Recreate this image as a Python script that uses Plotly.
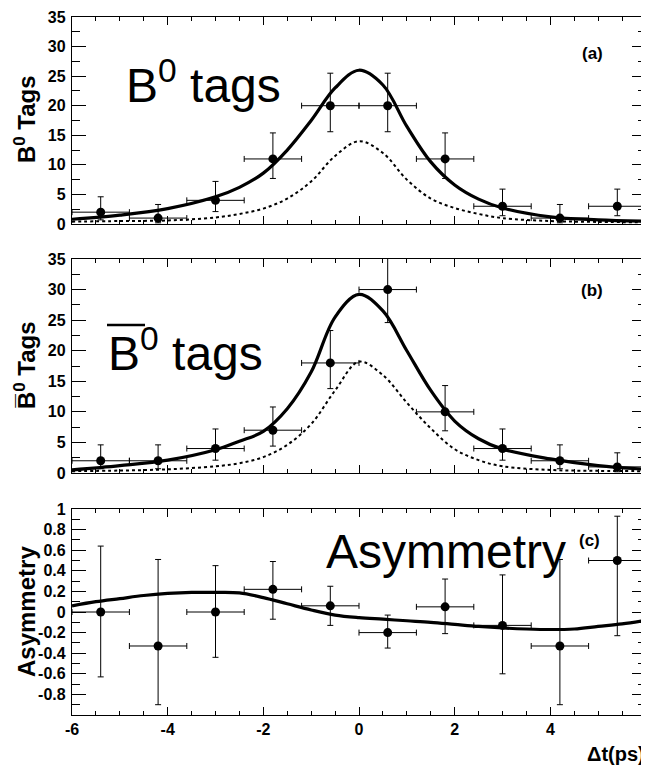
import plotly.graph_objects as go

# ---------------- data ----------------
bin_x = [-5.4, -4.2, -3.0, -1.8, -0.6, 0.6, 1.8, 3.0, 4.2, 5.4]
bin_halfwidth = [0.6] * 10

# (a) B0 tags
a_counts = [2, 1, 4, 11, 20, 20, 11, 3, 1, 3]
a_err_up = [2.6, 2.3, 3.2, 4.4, 5.5, 5.5, 4.4, 2.9, 2.3, 2.9]
a_err_dn = [1.3, 0.8, 1.9, 3.3, 4.4, 4.4, 3.3, 1.6, 0.8, 1.6]

# (b) B0bar tags
b_counts = [2, 2, 4, 7, 18, 30, 10, 4, 2, 1]
b_err_up = [2.6, 2.6, 3.2, 3.8, 5.3, 6.5, 4.3, 3.2, 2.6, 2.3]
b_err_dn = [1.3, 1.3, 1.9, 2.6, 4.2, 5.4, 3.1, 1.9, 1.3, 0.8]

# (c) asymmetry
c_vals = [0.0, -0.33, 0.0, 0.22, 0.06, -0.20, 0.05, -0.13, -0.33, 0.50]
c_err_up = [0.64, 0.84, 0.45, 0.27, 0.19, 0.17, 0.27, 0.49, 0.84, 0.43]
c_err_dn = [0.63, 0.57, 0.44, 0.29, 0.19, 0.15, 0.26, 0.47, 0.57, 0.73]

# fitted curves
curve_x = [-6, -5, -4, -3, -2.5, -2, -1.5, -1, -0.5, 0, 0.5, 1, 1.5, 2, 2.5, 3, 4, 5, 6]
a_total = [0.8, 1.5, 2.6, 4.6, 6.2, 8.6, 12.5, 17.5, 23.0, 26.0, 23.5, 16.5, 10.5, 6.6, 4.2, 2.7, 1.2, 0.7, 0.45]
a_signal = [0.4, 0.5, 0.6, 1.1, 1.7, 2.6, 4.3, 7.2, 11.5, 14.0, 12.0, 7.5, 4.3, 2.7, 1.7, 1.0, 0.5, 0.35, 0.3]
b_total = [0.5, 1.2, 2.1, 3.8, 5.2, 6.8, 10.5, 16.5, 25.5, 29.2, 26.5, 20.0, 13.5, 8.5, 5.6, 3.9, 2.3, 1.2, 0.6]
b_signal = [0.3, 0.4, 0.6, 1.1, 1.6, 2.6, 4.6, 8.0, 13.5, 18.2, 16.0, 11.5, 7.3, 3.9, 2.1, 1.1, 0.5, 0.35, 0.3]

asym_x = [-6, -5.5, -5, -4.5, -4, -3.5, -3, -2.5, -2, -1.5, -1, -0.5, 0, 0.5, 1, 1.5, 2, 2.5, 3, 3.5, 4, 4.5, 5, 5.5, 6]
asym_fit = [0.06, 0.10, 0.13, 0.16, 0.18, 0.19, 0.19, 0.185, 0.14, 0.08, 0.02, -0.03, -0.055, -0.07, -0.085,
            -0.10, -0.12, -0.14, -0.155, -0.165, -0.17, -0.165, -0.14, -0.115, -0.08]

x_ticks = [-6, -4, -2, 0, 2, 4, 6]
x_ticktext = ["-6", "-4", "-2", "0", "2", "4", "6"]
yab_ticks = [0, 5, 10, 15, 20, 25, 30, 35]
yc_ticks = [-0.8, -0.6, -0.4, -0.2, 0, 0.2, 0.4, 0.6, 0.8, 1]
yc_ticktext = ["-0.8", "-0.6", "-0.4", "-0.2", "0", "0.2", "0.4", "0.6", "0.8", "1"]

# ---------------- figure ----------------
# the page places the figure 8 px from the top-left corner (body margin),
# so the figure is 8 px smaller and all page positions are shifted by 8 px
OFF = 8
W, H = 649 - OFF, 769 - OFF
FONT = "Liberation Sans, Arial, sans-serif"


def px(x):
    return (x - OFF) / W


def py(y):
    return 1 - (y - OFF) / H


fig = go.Figure()

panels = [
    ("", "y", a_counts, a_err_up, a_err_dn, a_total, a_signal),
    ("2", "y2", b_counts, b_err_up, b_err_dn, b_total, b_signal),
]
for suffix, yref, counts, eu, ed, tot, sig in panels:
    xa = "x" + suffix
    fig.add_trace(go.Scatter(x=curve_x, y=sig, mode="lines", xaxis=xa, yaxis=yref,
                             line=dict(color="black", width=2, dash="dot", shape="spline"),
                             showlegend=False))
    fig.add_trace(go.Scatter(x=curve_x, y=tot, mode="lines", xaxis=xa, yaxis=yref,
                             line=dict(color="black", width=3.2, shape="spline"),
                             showlegend=False))
    fig.add_trace(go.Scatter(x=bin_x, y=counts, mode="markers", xaxis=xa, yaxis=yref,
                             marker=dict(color="black", size=9),
                             error_y=dict(type="data", symmetric=False, array=eu, arrayminus=ed,
                                          color="black", thickness=1, width=3),
                             error_x=dict(type="data", array=bin_halfwidth,
                                          color="black", thickness=1, width=3),
                             showlegend=False))

fig.add_trace(go.Scatter(x=asym_x, y=asym_fit, mode="lines", xaxis="x3", yaxis="y3",
                         line=dict(color="black", width=3.2, shape="spline"), showlegend=False))
fig.add_trace(go.Scatter(x=bin_x, y=c_vals, mode="markers", xaxis="x3", yaxis="y3",
                         marker=dict(color="black", size=9),
                         error_y=dict(type="data", symmetric=False, array=c_err_up, arrayminus=c_err_dn,
                                      color="black", thickness=1, width=3),
                         error_x=dict(type="data", array=bin_halfwidth,
                                      color="black", thickness=1, width=3),
                         showlegend=False))

xdom = [px(72), px(646)]
ydoms = [[py(224), py(17)], [py(473), py(259)], [py(715), py(509)]]

tickfont = dict(family=FONT, size=16, color="black", weight="bold")


def xaxis(anchor, labels):
    d = dict(domain=xdom, anchor=anchor, range=[-6, 6], tickmode="array", tickvals=x_ticks,
             ticktext=x_ticktext, showticklabels=labels, ticks="inside", ticklen=8, tickwidth=1,
             tickcolor="black", showline=True, linecolor="black", linewidth=1.3, mirror="ticks",
             showgrid=False, zeroline=False, tickfont=tickfont, automargin=False,
             minor=dict(tick0=0, dtick=0.5, ticks="inside", ticklen=4, tickcolor="black", showgrid=False))
    return d


def yaxis(anchor, dom, rng, vals, texts, minor_dtick):
    return dict(domain=dom, anchor=anchor, range=rng, tickmode="array", tickvals=vals, ticktext=texts,
                ticks="inside", ticklen=14, tickwidth=1, tickcolor="black", showline=True,
                linecolor="black", linewidth=1.3, mirror="ticks", showgrid=False, zeroline=False,
                tickfont=tickfont, ticklabelstandoff=2, automargin=False,
                minor=dict(tick0=0, dtick=minor_dtick, ticks="inside", ticklen=8, tickcolor="black",
                           showgrid=False))


fig.update_layout(
    template="none",
    width=W, height=H,
    margin=dict(l=0, r=0, t=0, b=0, autoexpand=False),
    paper_bgcolor="white", plot_bgcolor="white",
    showlegend=False,
    xaxis=xaxis("y", False),
    xaxis2=xaxis("y2", False),
    xaxis3=xaxis("y3", True),
    yaxis=yaxis("x", ydoms[0], [0, 35], yab_ticks, [str(v) for v in yab_ticks], 2.5),
    yaxis2=yaxis("x2", ydoms[1], [0, 35], yab_ticks, [str(v) for v in yab_ticks], 2.5),
    yaxis3=yaxis("x3", ydoms[2], [-1, 1], yc_ticks, yc_ticktext, 0.1),
)

big = dict(family=FONT, size=48, color="black")
title_font = dict(family=FONT, size=24, color="black", weight="bold")
label_font = dict(family=FONT, size=17, color="black", weight="bold")

annotations = [
    dict(text="B<sup>0</sup> tags", x=px(124), y=py(82), xanchor="left", yanchor="middle", font=big),
    dict(text="B<sup>0</sup> tags", x=px(106), y=py(350), xanchor="left", yanchor="middle", font=big),
    dict(text="Asymmetry", x=px(324), y=py(551), xanchor="left", yanchor="middle", font=big),
    dict(text="(a)", x=px(592), y=py(54), xanchor="center", yanchor="middle", font=label_font),
    dict(text="(b)", x=px(592), y=py(290), xanchor="center", yanchor="middle", font=label_font),
    dict(text="(c)", x=px(589), y=py(540), xanchor="center", yanchor="middle", font=label_font),
    dict(text="B<sup>0</sup> Tags", x=px(25), y=py(119), xanchor="center", yanchor="middle",
         textangle=-90, font=title_font),
    dict(text="B\u0305<sup>0</sup> Tags", x=px(25), y=py(365), xanchor="center", yanchor="middle",
         textangle=-90, font=title_font),
    dict(text="Asymmetry", x=px(26), y=py(612), xanchor="center", yanchor="middle",
         textangle=-90, font=title_font),
    dict(text="\u0394t(ps)", x=px(647), y=py(754), xanchor="right", yanchor="middle",
         font=dict(family=FONT, size=20, color="black", weight="bold")),
]
for a in annotations:
    a.update(xref="paper", yref="paper", showarrow=False)
fig.update_layout(annotations=annotations)

# overline of the large B-bar label
fig.add_shape(type="line", xref="paper", yref="paper", x0=px(107), x1=px(145), y0=py(325), y1=py(325),
              line=dict(color="black", width=2.5))

fig.write_html("out.html")
